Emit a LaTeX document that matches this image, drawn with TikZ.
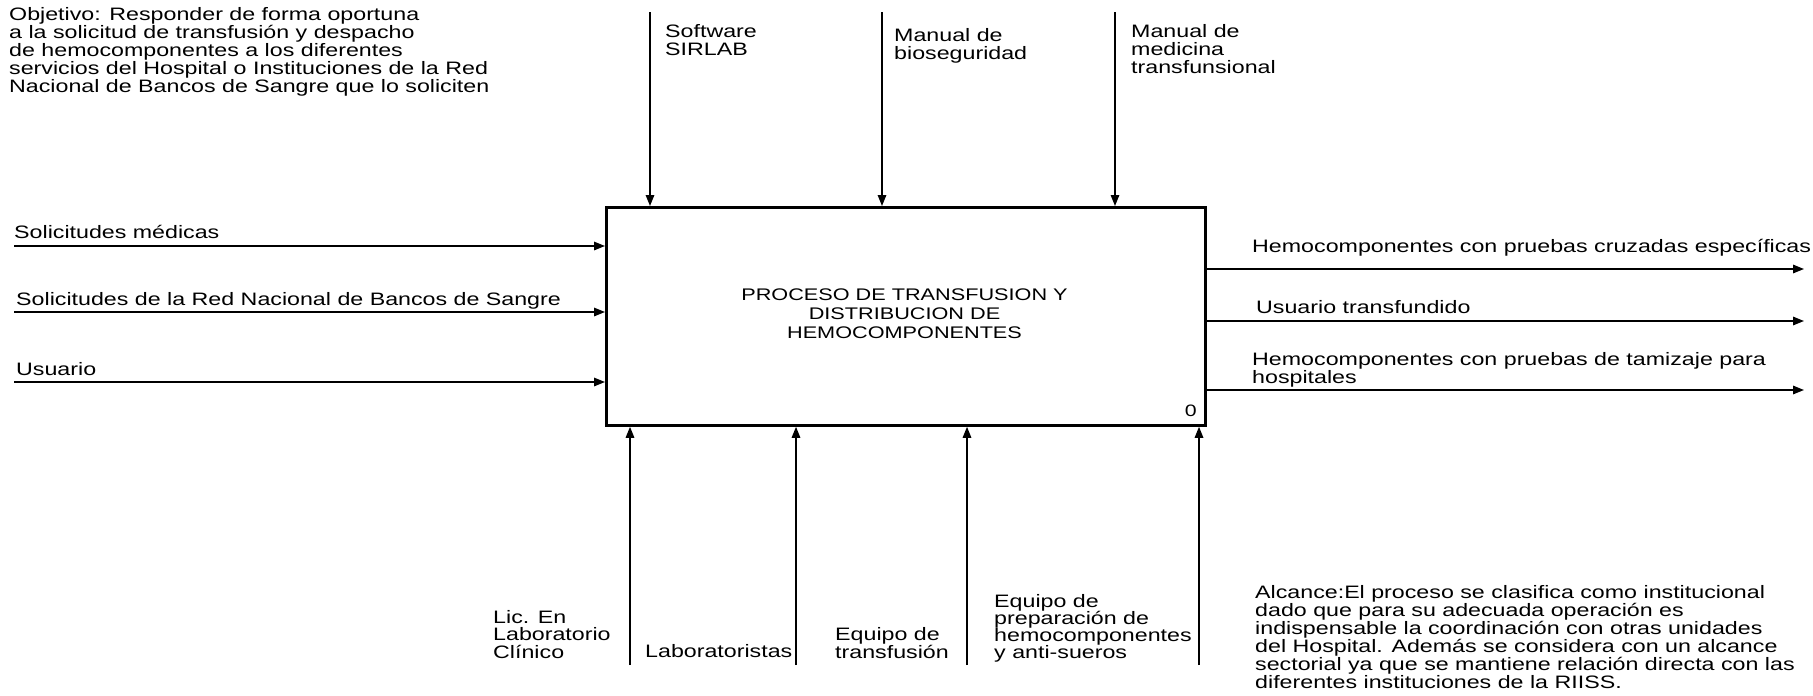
\documentclass[tikz,border=0pt]{standalone}
\usepackage{fontspec}
\setmainfont{Liberation Sans}[FakeStretch=1.29]
\usetikzlibrary{arrows.meta}
\begin{document}
\begin{tikzpicture}[x=1pt,y=-1pt,
  flow/.style={line width=1.5pt,-{Triangle[length=11pt,width=8.5pt]}},
  % multi-line labels are placed by the baseline of their last line
  txt/.style={inner sep=0pt,anchor=base west,align=left,font=\fontsize{18}{18}\selectfont},
  tight/.style={txt,font=\fontsize{18}{15.4}\selectfont},
  procbox/.style={draw,line width=2.8pt,minimum width=599pt,minimum height=218pt,anchor=north west,inner sep=0pt},
  proctxt/.style={inner sep=0pt,align=center,font=\fontsize{16.8}{19}\selectfont}]
\useasboundingbox (0,0) rectangle (1813,696);

% objective
\node[txt] (obj) at (9,92) {Objetivo: Responder de forma oportuna\\a la solicitud de transfusión y despacho\\de hemocomponentes a los diferentes\\servicios del Hospital o Instituciones de la Red\\Nacional de Bancos de Sangre que lo soliciten};

% process box
\node[procbox] (proc) at (605,206) {};
\node[proctxt] (ptitle) at (904.5,314) {PROCESO DE TRANSFUSION Y\\DISTRIBUCION DE\\HEMOCOMPONENTES};
\node[inner sep=0pt,anchor=base east,font=\fontsize{16.5}{18}\selectfont] (num) at (1197,416) {0};

% controls
\coordinate (c1) at (650,12);
\coordinate (c2) at (882,12);
\coordinate (c3) at (1115,12);
\draw[flow] (c1) -- (c1 |- proc.north);
\draw[flow] (c2) -- (c2 |- proc.north);
\draw[flow] (c3) -- (c3 |- proc.north);
\node[txt] (lc1) at (665,55) {Software\\SIRLAB};
\node[txt] (lc2) at (894,59) {Manual de\\bioseguridad};
\node[txt] (lc3) at (1131,73) {Manual de\\medicina\\transfunsional};

% inputs
\coordinate (i1) at (14,246);
\coordinate (i2) at (14,312);
\coordinate (i3) at (14,382);
\draw[flow] (i1) -- (i1 -| proc.west);
\draw[flow] (i2) -- (i2 -| proc.west);
\draw[flow] (i3) -- (i3 -| proc.west);
\node[txt] (li1) at (14,238) {Solicitudes médicas};
\node[txt] (li2) at (16,305) {Solicitudes de la Red Nacional de Bancos de Sangre};
\node[txt] (li3) at (16,375) {Usuario};

% outputs
\coordinate (o1) at (1804,269);
\coordinate (o2) at (1804,321);
\coordinate (o3) at (1804,390);
\draw[flow] (o1 -| proc.east) -- (o1);
\draw[flow] (o2 -| proc.east) -- (o2);
\draw[flow] (o3 -| proc.east) -- (o3);
\node[txt] (lo1) at (1252,252) {Hemocomponentes con pruebas cruzadas específicas};
\node[txt] (lo2) at (1256,313) {Usuario transfundido};
\node[txt] (lo3) at (1252,383) {Hemocomponentes con pruebas de tamizaje para\\hospitales};

% mechanisms
\coordinate (m1) at (630,665);
\coordinate (m2) at (796,665);
\coordinate (m3) at (967,665);
\coordinate (m4) at (1199,665);
\draw[flow] (m1) -- (m1 |- proc.south);
\draw[flow] (m2) -- (m2 |- proc.south);
\draw[flow] (m3) -- (m3 |- proc.south);
\draw[flow] (m4) -- (m4 |- proc.south);
\node[txt,font=\fontsize{18}{17.5}\selectfont] (lm1) at (493,658) {Lic. En\\Laboratorio\\Clínico};
\node[txt] (lm2) at (645,657) {Laboratoristas};
\node[txt,font=\fontsize{18}{16}\selectfont] (lm3) at (835,658) {Equipo de\\transfusión};
\node[txt,font=\fontsize{18}{17}\selectfont] (lm4) at (994,658) {Equipo de\\preparación de\\hemocomponentes\\y anti-sueros};

% scope
\node[tight] (scope) at (1255,688) {Alcance:El proceso se clasifica como institucional\\dado que para su adecuada operación es\\indispensable la coordinación con otras unidades\\del Hospital. Además se considera con un alcance\\sectorial ya que se mantiene relación directa con las\\diferentes instituciones de la RIISS.};
\end{tikzpicture}
\end{document}
